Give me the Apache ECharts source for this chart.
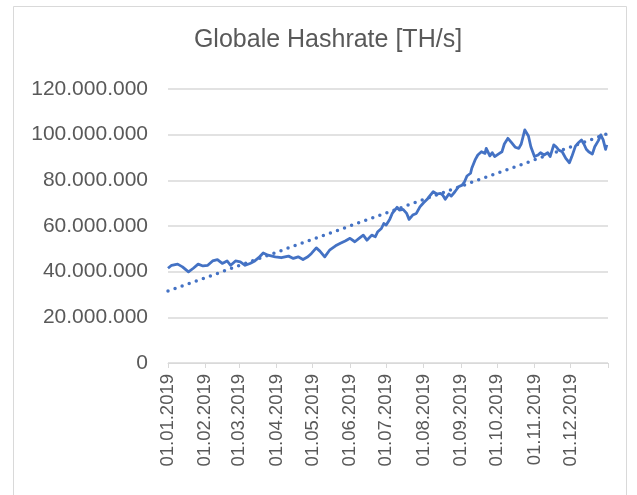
<!DOCTYPE html>
<html>
<head>
<meta charset="utf-8">
<script src="https://cdn.jsdelivr.net/npm/echarts@6/dist/echarts.min.js"></script>
<style>
html, body { margin: 0; padding: 0; background: #fff; }
#chart { width: 637px; height: 495px; }
</style>
</head>
<body>
<div id="chart"></div>
<script>
var chart = echarts.init(document.getElementById('chart'));

// Tagesdaten, Werte in Mio. TH/s
var dates = [
  '2019-01-01','2019-01-04','2019-01-09','2019-01-13','2019-01-18','2019-01-22','2019-01-26','2019-01-30',
  '2019-02-03','2019-02-07','2019-02-11','2019-02-15','2019-02-19','2019-02-22','2019-02-26',
  '2019-03-02','2019-03-06','2019-03-10','2019-03-14','2019-03-18','2019-03-21','2019-03-25','2019-03-31',
  '2019-04-05','2019-04-11','2019-04-15','2019-04-19','2019-04-23','2019-04-27','2019-04-30',
  '2019-05-04','2019-05-07','2019-05-11','2019-05-15','2019-05-20','2019-05-24','2019-05-28',
  '2019-06-01','2019-06-05','2019-06-09','2019-06-12','2019-06-15','2019-06-19','2019-06-22','2019-06-24','2019-06-27','2019-06-29',
  '2019-07-01','2019-07-04','2019-07-06','2019-07-10','2019-07-12','2019-07-15','2019-07-18','2019-07-20','2019-07-23','2019-07-26','2019-07-29',
  '2019-08-01','2019-08-04','2019-08-06','2019-08-09','2019-08-12','2019-08-15','2019-08-17','2019-08-19','2019-08-22','2019-08-24','2019-08-27','2019-08-30',
  '2019-09-02','2019-09-04','2019-09-06','2019-09-09','2019-09-10','2019-09-13','2019-09-15','2019-09-18','2019-09-21','2019-09-22','2019-09-25','2019-09-27','2019-09-29',
  '2019-10-02','2019-10-05','2019-10-07','2019-10-10','2019-10-13','2019-10-16','2019-10-19','2019-10-21','2019-10-24','2019-10-27','2019-10-29',
  '2019-11-01','2019-11-04','2019-11-06','2019-11-09','2019-11-12','2019-11-14','2019-11-17','2019-11-19','2019-11-21','2019-11-24','2019-11-27','2019-11-30',
  '2019-12-02','2019-12-05','2019-12-07','2019-12-10','2019-12-12','2019-12-14','2019-12-16','2019-12-19','2019-12-21','2019-12-24','2019-12-26','2019-12-28','2019-12-30','2019-12-31'
];
var hashrateMio = [
  41.5,42.8,43.3,42.1,39.9,41.5,43.3,42.5,
  42.8,44.7,45.3,43.6,44.7,42.8,44.7,
  44.3,42.8,43.6,44.7,46.5,48.2,47.2,46.5,
  46.1,46.8,45.8,46.5,45.3,46.5,48.0,
  50.4,49.0,46.5,49.4,51.3,52.4,53.4,
  54.6,53.1,54.8,56.0,53.8,56.0,55.3,57.5,58.9,61.1,
  60.4,63.0,65.5,68.2,67.0,67.3,65.5,62.9,64.8,65.5,68.4,
  70.2,71.7,73.1,75.0,74.0,74.3,73.5,71.7,74.0,73.1,75.0,77.2,
  77.9,79.4,81.9,83.1,85.3,89.2,91.1,92.5,91.8,94.0,90.7,92.1,90.4,
  91.5,92.5,95.9,98.4,96.5,94.5,94.0,95.9,102.1,99.4,94.7,
  90.4,91.1,92.1,91.1,92.1,90.4,95.5,94.7,93.3,92.5,89.6,87.7,
  90.4,95.0,96.2,97.7,95.9,93.6,92.5,91.5,94.7,97.4,99.9,97.7,93.6,95.5
];

var trendDates = ['2019-01-01', '2019-12-31'];
var trendMio = [31.5, 100.3];

function toTime(s) {
  var p = s.split('-');
  return +new Date(+p[0], +p[1] - 1, +p[2]);
}

var monthTicks = [];
for (var m = 0; m <= 12; m++) monthTicks.push(+new Date(2019, m, 1));
var monthLabels = monthTicks.slice(0, 12);

function pad(n) { return n < 10 ? '0' + n : '' + n; }
function fmtDate(v) {
  var d = new Date(v);
  return pad(d.getDate()) + '.' + pad(d.getMonth() + 1) + '.' + d.getFullYear();
}
function fmtNum(v) {
  return String(Math.round(v)).replace(/\B(?=(\d{3})+(?!\d))/g, '.');
}

var lineData = dates.map(function (d, i) { return [toTime(d), hashrateMio[i] * 1e6]; });
var trendData = trendDates.map(function (d, i) { return [toTime(d), trendMio[i] * 1e6]; });

var textColor = '#595959';
var font = 'Liberation Sans, Arial, sans-serif';

var option = {
  animation: false,
  backgroundColor: '#ffffff',
  title: {
    text: 'Globale Hashrate [TH/s]',
    left: 328,
    top: 28,
    padding: 0,
    textAlign: 'center',
    textStyle: { color: textColor, fontSize: 25, fontWeight: 'normal', fontFamily: font }
  },
  graphic: [{
    type: 'rect',
    shape: { x: 13.5, y: 6.5, width: 613, height: 520 },
    style: { fill: 'none', stroke: '#d9d9d9', lineWidth: 1 },
    silent: true
  }],
  grid: { left: 168, right: 29, top: 89, bottom: 132 },
  xAxis: {
    type: 'value',
    min: monthTicks[0],
    max: monthTicks[12],
    axisLine: { show: true, lineStyle: { color: '#d9d9d9', width: 1 } },
    axisTick: { show: true, length: 5, lineStyle: { color: '#d9d9d9' }, customValues: monthTicks },
    axisLabel: {
      customValues: monthLabels,
      rotate: 90,
      margin: 11,
      color: textColor,
      fontSize: 18.5,
      fontFamily: font,
      formatter: fmtDate
    },
    splitLine: { show: false }
  },
  yAxis: {
    type: 'value',
    min: 0,
    max: 120000000,
    interval: 20000000,
    axisLine: { show: false },
    axisTick: { show: false },
    axisLabel: {
      margin: 20,
      color: textColor,
      fontSize: 21,
      fontFamily: font,
      formatter: fmtNum
    },
    splitLine: { lineStyle: { color: '#d9d9d9', width: 1.5 } }
  },
  series: [{
    name: 'Hashrate',
    type: 'line',
    data: lineData,
    showSymbol: false,
    lineStyle: { color: '#4472C4', width: 2.8, join: 'round' },
    itemStyle: { color: '#4472C4' }
  }, {
    name: 'Trend',
    type: 'line',
    data: trendData,
    showSymbol: false,
    lineStyle: { color: '#4472C4', width: 3.5, type: [0, 7.5], cap: 'round' },
    itemStyle: { color: '#4472C4' }
  }]
};

chart.setOption(option);
</script>
</body>
</html>
